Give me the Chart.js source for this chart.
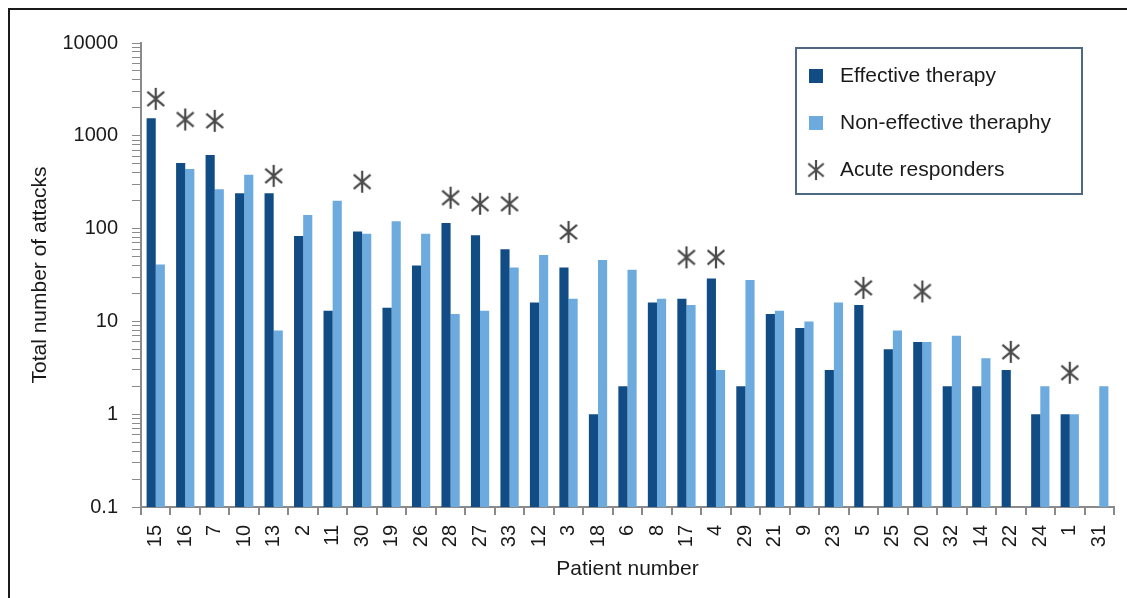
<!DOCTYPE html>
<html>
<head>
<meta charset="utf-8">
<script src="https://cdn.jsdelivr.net/npm/chart.js@4"></script>
<style>
html, body { margin: 0; padding: 0; background: #fff; overflow: hidden; }
#frame { position: absolute; left: 8px; top: 8px; width: 1200px; height: 700px; border: 2px solid #1a1a1a; }
#wrap { position: absolute; left: 0; top: 0; width: 1127px; height: 598px; }
</style>
</head>
<body>
<div id="frame"></div>
<div id="wrap"><canvas id="chart"></canvas></div>
<script>
var patients = ["15", "16", "7", "10", "13", "2", "11", "30", "19", "26", "28", "27", "33", "12", "3", "18", "6",
    "8", "17", "4", "29", "21", "9", "23", "5", "25", "20", "32", "14", "22", "24", "1", "31"];

var effective = [1550, 510, 620, 240, 240, 83, 13, 93, 14, 40, 115, 85, 60, 16, 38, 1, 2,
    16, 17.5, 29, 2, 12, 8.5, 3, 15, 5, 6, 2, 2, 3, 1, 1, null];

var nonEffective = [41, 440, 265, 380, 8, 140, 200, 88, 120, 88, 12, 13, 38, 52, 17.5, 46, 36,
    17.5, 15, 3, 28, 13, 10, 16, null, 8, 6, 7, 4, null, 2, 1, 2];

var acuteResponders = [2500, 1500, 1450, null, 370, null, null, 320, null, null, 215, 185, 185, null, 92, null, null,
    null, 49, 49, null, null, null, null, 23, null, 21, null, null, 4.7, null, 2.8, null];

var yTickValues = [0.1, 1, 10, 100, 1000, 10000];
var yTickLabels = ["0.1", "1", "10", "100", "1000", "10000"];

var seriesNames = ["Effective therapy", "Non-effective theraphy", "Acute responders"];

var darkBlue = "#124c85";
var lightBlue = "#6dabde";
var starGrey = "#4a4a4a";
var fontFamily = "'Liberation Sans', Arial, Helvetica, sans-serif";

function makeAsterisk(size, color) {
    var c = document.createElement("canvas");
    c.width = size;
    c.height = size;
    var g = c.getContext("2d");
    var cx = size / 2, cy = size / 2, r = size / 2 - 1;
    g.strokeStyle = color;
    g.lineWidth = 2.2;
    g.beginPath();
    g.moveTo(cx, cy - r);
    g.lineTo(cx, cy + r);
    var a = 40 * Math.PI / 180;
    g.moveTo(cx - r * Math.cos(a), cy - r * Math.sin(a));
    g.lineTo(cx + r * Math.cos(a), cy + r * Math.sin(a));
    g.moveTo(cx - r * Math.cos(a), cy + r * Math.sin(a));
    g.lineTo(cx + r * Math.cos(a), cy - r * Math.sin(a));
    g.stroke();
    return c;
}

var asterisk = makeAsterisk(24, starGrey);

// boxed legend drawn inside the plot, like the original
var boxLegend = {
    id: "boxLegend",
    afterDraw: function (chart) {
        var ctx = chart.ctx;
        var x = 796, y = 48, w = 286, h = 146;
        ctx.save();
        ctx.fillStyle = "#fff";
        ctx.fillRect(x, y, w, h);
        ctx.strokeStyle = "#4f6985";
        ctx.lineWidth = 2;
        ctx.strokeRect(x, y, w, h);
        ctx.font = "21px " + fontFamily;
        ctx.textBaseline = "middle";
        ctx.textAlign = "left";
        var rows = [76, 123, 170];
        chart.data.datasets.forEach(function (ds, i) {
            if (ds.type === "line") {
                ctx.drawImage(asterisk, 816 - 11, rows[i] - 11, 22, 22);
            } else {
                ctx.fillStyle = ds.backgroundColor;
                ctx.fillRect(809, rows[i] - 7, 14, 14);
            }
            ctx.fillStyle = "#1a1a1a";
            ctx.fillText(ds.label, 840, rows[i]);
        });
        ctx.restore();
    }
};

new Chart("chart", {
    type: "bar",
    data: {
        labels: patients,
        datasets: [{
            label: seriesNames[0],
            data: effective,
            backgroundColor: darkBlue,
            barPercentage: 1,
            categoryPercentage: 0.62,
            order: 2
        }, {
            label: seriesNames[1],
            data: nonEffective,
            backgroundColor: lightBlue,
            barPercentage: 1,
            categoryPercentage: 0.62,
            order: 2
        }, {
            type: "line",
            label: seriesNames[2],
            data: acuteResponders,
            showLine: false,
            pointStyle: asterisk,
            pointRadius: 12,
            order: 1
        }]
    },
    options: {
        responsive: true,
        maintainAspectRatio: false,
        animation: false,
        layout: { padding: { top: 43, right: 11, left: 0, bottom: 0 } },
        plugins: {
            legend: { display: false },
            tooltip: { enabled: false }
        },
        scales: {
            x: {
                grid: { display: true, drawOnChartArea: false, offset: true, color: "#8a8a8a", tickLength: 8, lineWidth: 2 },
                border: { display: true, color: "#8a8a8a", width: 2 },
                ticks: {
                    autoSkip: false, minRotation: 90, maxRotation: 90, padding: 10,
                    color: "#1a1a1a", font: { family: fontFamily, size: 20 }
                },
                title: {
                    display: true, text: "Patient number", color: "#1a1a1a",
                    font: { family: fontFamily, size: 21 }, padding: { top: 0, bottom: 16 }
                },
                afterFit: function (scale) {
                    scale.height = 91;
                    scale.paddingLeft = 0;
                    scale.paddingRight = 0;
                }
            },
            y: {
                type: "logarithmic",
                min: 0.1,
                max: 10000,
                grid: { display: true, drawOnChartArea: false, color: "#8a8a8a", tickLength: 9 },
                border: { display: true, color: "#8a8a8a", width: 2 },
                afterBuildTicks: function (scale) {
                    var t = [];
                    yTickValues.forEach(function (v, i) {
                        t.push({ value: v, major: true });
                        if (i < yTickValues.length - 1) {
                            for (var m = 2; m <= 9; m++) t.push({ value: v * m });
                        }
                    });
                    scale.ticks = t;
                },
                ticks: {
                    autoSkip: false, padding: 14, color: "#1a1a1a",
                    font: { family: fontFamily, size: 20 },
                    callback: function (value) {
                        for (var i = 0; i < yTickValues.length; i++) {
                            if (Math.abs(value - yTickValues[i]) < yTickValues[i] * 1e-6) return yTickLabels[i];
                        }
                        return "";
                    }
                },
                title: {
                    display: true, text: "Total number of attacks", color: "#1a1a1a",
                    font: { family: fontFamily, size: 21 }, padding: { top: 28, bottom: 0 }
                },
                afterFit: function (scale) { scale.width = 141; }
            }
        }
    },
    plugins: [boxLegend]
});
</script>
</body>
</html>
